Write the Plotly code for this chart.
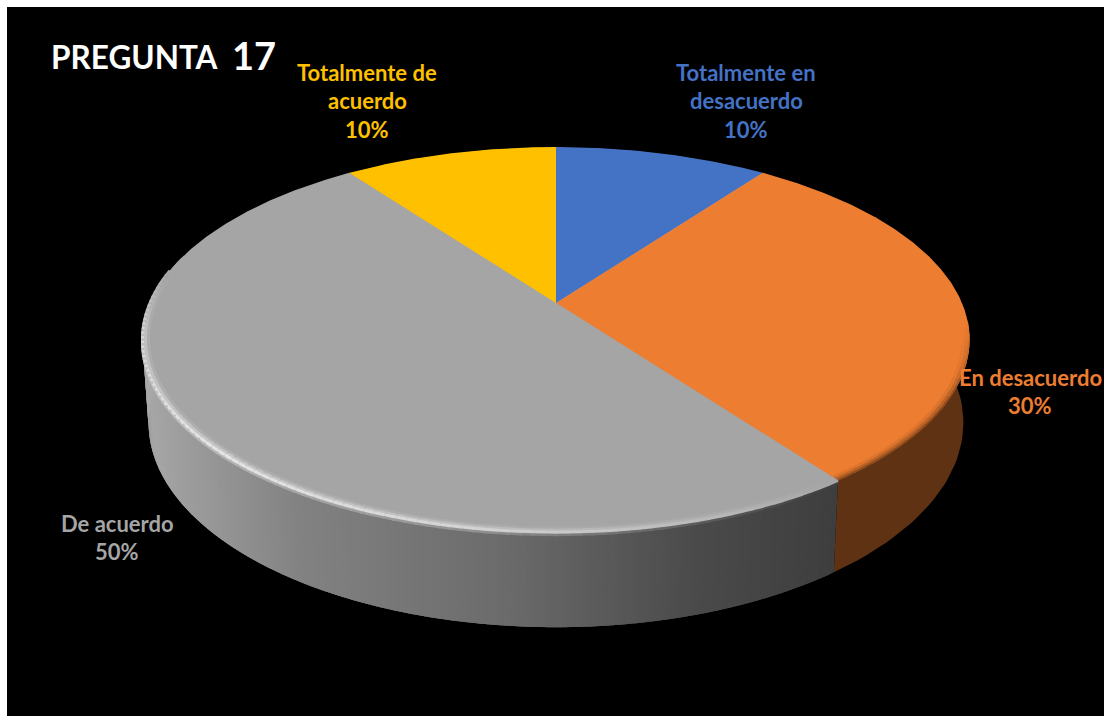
import numpy as np
import plotly.graph_objects as go

# ---- data ----
categories = ["Totalmente en desacuerdo", "En desacuerdo", "De acuerdo", "Totalmente de acuerdo"]
values = [10, 30, 50, 10]
colors = ["#4472C4", "#ED7D31", "#A5A5A5", "#FFC000"]
title_word = "PREGUNTA"
title_number = "17"

# ---- projection of the tilted disc into the pixel-like axes ----
CX, K = 556, 0.19
TOP = dict(a=406, b=185.6, y0=303)
BOT = dict(a=400, b=197, y0=384)
LABEL_FONT = "Lato"


def project(theta_deg, disc, r=1.0):
    t = np.radians(theta_deg)
    X, Y = r * np.sin(t), r * np.cos(t)
    w = 1 + K * Y
    return CX + disc["a"] * X / w, disc["y0"] - disc["b"] * Y / w


def blend(c0, c1, f):
    v = [int(round(a + (b - a) * f)) for a, b in zip(c0, c1)]
    return f"rgb({v[0]},{v[1]},{v[2]})"


shares = np.array(values) / sum(values) * 360
ends = np.cumsum(shares)
starts = ends - shares

fig = go.Figure()


def poly(x, y, color):
    fig.add_trace(go.Scatter(x=x, y=y, mode="lines", fill="toself", fillcolor=color,
                             line=dict(width=0), hoverinfo="skip", showlegend=False))


def stroke(x, y, color, width):
    fig.add_trace(go.Scatter(x=x, y=y, mode="lines", line=dict(color=color, width=width),
                             hoverinfo="skip", showlegend=False))


def gray_level(x):
    return float(np.interp(x, [140, 170, 300, 500, 700, 840], [170, 160, 130, 108, 74, 62]))


# side wall: orange part, then gray part as overlapping strips (right to left)
th = np.linspace(90, ends[1], 40)
xa, ya = project(th, TOP)
xb, yb = project(th[::-1], BOT)
poly(np.r_[xa, xb], np.r_[ya, yb], "#5E3213")

edges = np.linspace(ends[1], 285, 280)
for t0, t1 in zip(edges[:-1], edges[1:]):
    tt = np.array([t0, t1, t1 + 0.6])
    xa, ya = project(tt, TOP)
    xb, yb = project(tt[::-1], BOT)
    v = gray_level(xa[0])
    poly(np.r_[xa, xb], np.r_[ya, yb], f"rgb({v:.0f},{v:.0f},{v:.0f})")

# top face: an underlay hides the hairlines between slices
x, y = project(np.linspace(0, 360, 361), TOP, 0.995)
poly(x, y, "#A5A5A5")
for s, e, c in zip(starts, ends, colors):
    th = np.linspace(s, e, max(int(e - s) * 2, 8))
    x, y = project(th, TOP)
    poly(np.r_[CX, x, CX], np.r_[TOP["y0"], y, TOP["y0"]], c)

# soft rim on the orange slice
ORANGE, ORANGE_DARK = (237, 125, 49), (94, 50, 19)
edges = np.linspace(96, ends[1], 30)
for t0, t1 in zip(edges[:-1], edges[1:]):
    amount = np.interp((t0 + t1) / 2, [96, 118], [0, 1])
    tt = np.array([t0, t1 + 0.4])
    for r, f, wd in [(0.985, 0.12, 3), (0.992, 0.35, 2.5), (0.998, 0.65, 2)]:
        x, y = project(tt, TOP, r)
        stroke(x, y, blend(ORANGE, ORANGE_DARK, f * amount), wd)

# bevel highlight on the gray slice
GRAY, LIGHT = (165, 165, 165), (240, 240, 240)
edges = np.linspace(ends[1], 280, 100)
for t0, t1 in zip(edges[:-1], edges[1:]):
    mid = (t0 + t1) / 2
    strength = np.interp(mid, [144, 160, 190, 225, 262, 280], [0.0, 0.25, 0.65, 0.9, 0.7, 0.0])
    tt = np.array([t0, t1 + 0.4])
    xm = project(mid, TOP)[0]
    wall = gray_level(xm)
    x, y = project(tt, TOP, 1.0)
    stroke(x, y + 2.5, blend((wall,) * 3, LIGHT, strength * 0.4), 3)
    x, y = project(tt, TOP, 0.986)
    stroke(x, y, blend(GRAY, LIGHT, strength * 0.15), 3)
    x, y = project(tt, TOP, 0.993)
    stroke(x, y, blend(GRAY, LIGHT, strength * 0.5), 3)
    x, y = project(tt, TOP, 1.0)
    stroke(x, y, blend(GRAY, LIGHT, strength * 0.95), 3)

# ---- text ----
label_layout = [
    (["Totalmente en", "desacuerdo"], 746, [72, 100], 129),
    (["En desacuerdo"], 1030, [377], 405),
    (["De acuerdo"], 117, [523], 551),
    (["Totalmente de", "acuerdo"], 367, [72, 100], 129),
]
annotations = []
for (lines, x, ys, pct_y), v, c in zip(label_layout, values, colors):
    for line, y in list(zip(lines, ys)) + [(f"{v}%", pct_y)]:
        annotations.append(dict(x=x, y=y, xref="x", yref="y", text=line, showarrow=False,
                                xanchor="center", yanchor="middle",
                                font=dict(family=LABEL_FONT, size=22, color=c, weight="bold")))
annotations.append(dict(x=49, y=57, xref="x", yref="y", text=title_word, showarrow=False, xanchor="left",
                        yanchor="middle", font=dict(family=LABEL_FONT, size=31.5, color="white", weight="bold")))
annotations.append(dict(x=230, y=55, xref="x", yref="y", text=title_number, showarrow=False, xanchor="left",
                        yanchor="middle", font=dict(family=LABEL_FONT, size=38, color="white", weight="bold")))

fig.update_layout(
    width=1104, height=716,
    margin=dict(l=7, r=0, t=7, b=0),
    paper_bgcolor="white", plot_bgcolor="black",
    showlegend=False, annotations=annotations,
    xaxis=dict(range=[7, 1104], visible=False, fixedrange=True),
    yaxis=dict(range=[716, 7], visible=False, fixedrange=True),
)
fig.write_html("out.html", config={"displayModeBar": False},
               post_script="document.body.style.margin='0';document.body.style.overflow='hidden';")
